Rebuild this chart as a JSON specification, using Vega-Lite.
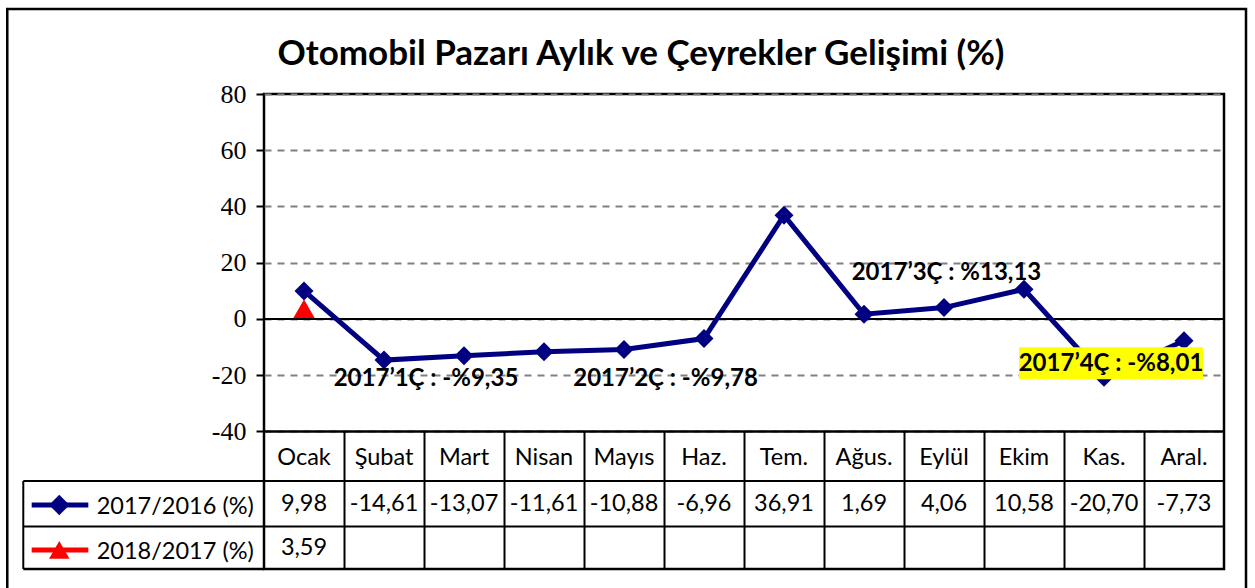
{
  "$schema": "https://vega.github.io/schema/vega-lite/v6.json",
  "width": 960,
  "height": 475,
  "autosize": {"type": "none"},
  "padding": {"left": 264, "top": 94, "right": 31, "bottom": 19},
  "background": "white",
  "title": {
    "text": "Otomobil Pazarı Aylık ve Çeyrekler Gelişimi (%)",
    "font": "Lato", "fontSize": 35, "fontWeight": "bold", "color": "black",
    "anchor": "middle", "frame": "group", "dx": -103, "offset": -92, "baseline": "alphabetic"
  },
  "config": {
    "view": {"stroke": "black", "strokeWidth": 2.5},
    "locale": {"number": {"decimal": ",", "thousands": ".", "grouping": [3], "currency": ["", ""], "minus": "-"}},
    "text": {"font": "Lato", "fontSize": 23.5, "color": "black"}
  },
  "data": {
    "values": [
      {"month": "Ocak", "m": 1, "series": "2017/2016 (%)", "value": 9.98},
      {"month": "Şubat", "m": 2, "series": "2017/2016 (%)", "value": -14.61},
      {"month": "Mart", "m": 3, "series": "2017/2016 (%)", "value": -13.07},
      {"month": "Nisan", "m": 4, "series": "2017/2016 (%)", "value": -11.61},
      {"month": "Mayıs", "m": 5, "series": "2017/2016 (%)", "value": -10.88},
      {"month": "Haz.", "m": 6, "series": "2017/2016 (%)", "value": -6.96},
      {"month": "Tem.", "m": 7, "series": "2017/2016 (%)", "value": 36.91},
      {"month": "Ağus.", "m": 8, "series": "2017/2016 (%)", "value": 1.69},
      {"month": "Eylül", "m": 9, "series": "2017/2016 (%)", "value": 4.06},
      {"month": "Ekim", "m": 10, "series": "2017/2016 (%)", "value": 10.58},
      {"month": "Kas.", "m": 11, "series": "2017/2016 (%)", "value": -20.70},
      {"month": "Aral.", "m": 12, "series": "2017/2016 (%)", "value": -7.73},
      {"month": "Ocak", "m": 1, "series": "2018/2017 (%)", "value": 3.59}
    ]
  },
  "layer": [
    {"data": {"values": [{}]}, "mark": {"type": "rect", "filled": false, "color": "black", "strokeWidth": 2.5},
      "encoding": {
        "x": {"datum": -2.709, "scale": {"domain": [0.5, 12.5], "nice": false, "zero": false}},
        "x2": {"datum": 12.775},
        "y": {"datum": 110.22, "scale": {"domain": [-88.89, 80], "nice": false, "zero": false}},
        "y2": {"datum": -107}}},
    {"transform": [{"filter": "datum.series == '2018/2017 (%)'"}],
      "mark": {"type": "point", "shape": "triangle-up", "filled": true, "color": "#FF0000", "size": 480, "opacity": 1},
      "encoding": {
        "x": {"field": "m", "type": "quantitative", "scale": {"domain": [0.5, 12.5], "nice": false, "zero": false},
          "axis": {"values": [1.5, 2.5, 3.5, 4.5, 5.5, 6.5, 7.5, 8.5, 9.5, 10.5, 11.5], "orient": "bottom",
            "tickSize": -137.5, "tickColor": "black", "tickWidth": 2, "labels": false, "domain": false, "grid": false, "title": null}},
        "y": {"field": "value", "type": "quantitative", "scale": {"domain": [-88.89, 80], "nice": false, "zero": false},
          "axis": {"values": [80, 60, 40, 20, 0, -20, -40], "tickSize": 8, "tickWidth": 2, "tickColor": "black",
            "labelFont": "Liberation Serif", "labelFontSize": 26, "labelColor": "black", "labelPadding": 10,
            "labelFlush": false, "labelOverlap": false, "domain": false, "grid": true, "gridDash": [7, 6],
            "gridColor": "#808080", "gridWidth": 2, "title": null}}}},
    {"data": {"values": [{}]}, "mark": {"type": "rule", "color": "black", "strokeWidth": 2},
      "encoding": {
        "x": {"datum": 0.5, "scale": {"domain": [0.5, 12.5], "nice": false, "zero": false}}, "x2": {"datum": 12.5},
        "y": {"datum": 0, "scale": {"domain": [-88.89, 80], "nice": false, "zero": false}}}},
    {"data": {"values": [{}]}, "mark": {"type": "rule", "color": "black", "strokeWidth": 2.5},
      "encoding": {
        "x": {"datum": 0.5, "scale": {"domain": [0.5, 12.5], "nice": false, "zero": false}}, "x2": {"datum": 12.5},
        "y": {"datum": -40, "scale": {"domain": [-88.89, 80], "nice": false, "zero": false}}}},
    {"data": {"values": [{}]}, "mark": {"type": "rule", "color": "black", "strokeWidth": 2},
      "encoding": {
        "x": {"datum": -2.509, "scale": {"domain": [0.5, 12.5], "nice": false, "zero": false}}, "x2": {"datum": 12.5},
        "y": {"datum": -57.6, "scale": {"domain": [-88.89, 80], "nice": false, "zero": false}}}},
    {"data": {"values": [{}]}, "mark": {"type": "rule", "color": "black", "strokeWidth": 2},
      "encoding": {
        "x": {"datum": -2.509, "scale": {"domain": [0.5, 12.5], "nice": false, "zero": false}}, "x2": {"datum": 12.5},
        "y": {"datum": -73.78, "scale": {"domain": [-88.89, 80], "nice": false, "zero": false}}}},
    {"data": {"values": [{}]}, "mark": {"type": "rule", "color": "black", "strokeWidth": 2.5},
      "encoding": {
        "x": {"datum": -2.509, "scale": {"domain": [0.5, 12.5], "nice": false, "zero": false}}, "x2": {"datum": 0.5},
        "y": {"datum": -88.89, "scale": {"domain": [-88.89, 80], "nice": false, "zero": false}}}},
    {"data": {"values": [{}]}, "mark": {"type": "rule", "color": "black", "strokeWidth": 2},
      "encoding": {
        "x": {"datum": -2.509, "scale": {"domain": [0.5, 12.5], "nice": false, "zero": false}},
        "y": {"datum": -57.6, "scale": {"domain": [-88.89, 80], "nice": false, "zero": false}}, "y2": {"datum": -88.89}}},
    {"transform": [{"filter": "datum.series == '2017/2016 (%)'"}],
      "mark": {"type": "line", "color": "#000080", "strokeWidth": 5},
      "encoding": {
        "x": {"field": "m", "type": "quantitative", "scale": {"domain": [0.5, 12.5], "nice": false, "zero": false}},
        "y": {"field": "value", "type": "quantitative", "scale": {"domain": [-88.89, 80], "nice": false, "zero": false}}}},
    {"transform": [{"filter": "datum.series == '2017/2016 (%)'"}],
      "mark": {"type": "point", "shape": "diamond", "filled": true, "color": "#000080", "size": 360, "opacity": 1},
      "encoding": {
        "x": {"field": "m", "type": "quantitative", "scale": {"domain": [0.5, 12.5], "nice": false, "zero": false}},
        "y": {"field": "value", "type": "quantitative", "scale": {"domain": [-88.89, 80], "nice": false, "zero": false}}}},
    {"data": {"values": [{}]}, "mark": {"type": "rect", "color": "#FFFF00"},
      "encoding": {
        "x": {"datum": 9.9375, "scale": {"domain": [0.5, 12.5], "nice": false, "zero": false}}, "x2": {"datum": 12.2375},
        "y": {"datum": -10.06, "scale": {"domain": [-88.89, 80], "nice": false, "zero": false}}, "y2": {"datum": -21.44}}},
    {"data": {"values": [{}]}, "mark": {"type": "text", "text": "2017’1Ç : -%9,35", "fontWeight": "bold", "fontSize": 24, "baseline": "middle"},
      "encoding": {
        "x": {"datum": 2.525, "scale": {"domain": [0.5, 12.5], "nice": false, "zero": false}},
        "y": {"datum": -21.33, "scale": {"domain": [-88.89, 80], "nice": false, "zero": false}}}},
    {"data": {"values": [{}]}, "mark": {"type": "text", "text": "2017’2Ç : -%9,78", "fontWeight": "bold", "fontSize": 24, "baseline": "middle"},
      "encoding": {
        "x": {"datum": 5.519, "scale": {"domain": [0.5, 12.5], "nice": false, "zero": false}},
        "y": {"datum": -21.33, "scale": {"domain": [-88.89, 80], "nice": false, "zero": false}}}},
    {"data": {"values": [{}]}, "mark": {"type": "text", "text": "2017’3Ç : %13,13", "fontWeight": "bold", "fontSize": 24, "baseline": "middle"},
      "encoding": {
        "x": {"datum": 9.031, "scale": {"domain": [0.5, 12.5], "nice": false, "zero": false}},
        "y": {"datum": 16.53, "scale": {"domain": [-88.89, 80], "nice": false, "zero": false}}}},
    {"data": {"values": [{}]}, "mark": {"type": "text", "text": "2017’4Ç : -%8,01", "fontWeight": "bold", "fontSize": 24, "baseline": "middle"},
      "encoding": {
        "x": {"datum": 11.0875, "scale": {"domain": [0.5, 12.5], "nice": false, "zero": false}},
        "y": {"datum": -16, "scale": {"domain": [-88.89, 80], "nice": false, "zero": false}}}},
    {"transform": [{"filter": "datum.series == '2017/2016 (%)'"}],
      "mark": {"type": "text", "baseline": "alphabetic", "align": "center"},
      "encoding": {
        "x": {"field": "m", "type": "quantitative", "scale": {"domain": [0.5, 12.5], "nice": false, "zero": false}},
        "y": {"datum": -51.91, "scale": {"domain": [-88.89, 80], "nice": false, "zero": false}},
        "text": {"field": "month"}}},
    {"transform": [{"filter": "datum.series == '2017/2016 (%)'"}],
      "mark": {"type": "text", "baseline": "alphabetic", "align": "center"},
      "encoding": {
        "x": {"field": "m", "type": "quantitative", "scale": {"domain": [0.5, 12.5], "nice": false, "zero": false}},
        "y": {"datum": -68.27, "scale": {"domain": [-88.89, 80], "nice": false, "zero": false}},
        "text": {"field": "value", "type": "quantitative", "format": ".2f"}}},
    {"transform": [{"filter": "datum.series == '2018/2017 (%)'"}],
      "mark": {"type": "text", "baseline": "alphabetic", "align": "center"},
      "encoding": {
        "x": {"field": "m", "type": "quantitative", "scale": {"domain": [0.5, 12.5], "nice": false, "zero": false}},
        "y": {"datum": -83.91, "scale": {"domain": [-88.89, 80], "nice": false, "zero": false}},
        "text": {"field": "value", "type": "quantitative", "format": ".2f"}}},
    {"data": {"values": [{}]}, "mark": {"type": "rule", "color": "#000080", "strokeWidth": 5},
      "encoding": {
        "x": {"datum": -2.404, "scale": {"domain": [0.5, 12.5], "nice": false, "zero": false}}, "x2": {"datum": -1.696},
        "y": {"datum": -66.13, "scale": {"domain": [-88.89, 80], "nice": false, "zero": false}}}},
    {"data": {"values": [{}]}, "mark": {"type": "point", "shape": "diamond", "filled": true, "color": "#000080", "size": 420, "opacity": 1},
      "encoding": {
        "x": {"datum": -2.059, "scale": {"domain": [0.5, 12.5], "nice": false, "zero": false}},
        "y": {"datum": -66.13, "scale": {"domain": [-88.89, 80], "nice": false, "zero": false}}}},
    {"data": {"values": [{}]}, "mark": {"type": "rule", "color": "#FF0000", "strokeWidth": 5},
      "encoding": {
        "x": {"datum": -2.404, "scale": {"domain": [0.5, 12.5], "nice": false, "zero": false}}, "x2": {"datum": -1.696},
        "y": {"datum": -82.13, "scale": {"domain": [-88.89, 80], "nice": false, "zero": false}}}},
    {"data": {"values": [{}]}, "mark": {"type": "point", "shape": "triangle-up", "filled": true, "color": "#FF0000", "size": 420, "opacity": 1},
      "encoding": {
        "x": {"datum": -2.059, "scale": {"domain": [0.5, 12.5], "nice": false, "zero": false}},
        "y": {"datum": -82.13, "scale": {"domain": [-88.89, 80], "nice": false, "zero": false}}}},
    {"transform": [{"filter": "datum.m == 1 && datum.series == '2017/2016 (%)'"}],
      "mark": {"type": "text", "baseline": "middle", "align": "left"},
      "encoding": {
        "x": {"datum": -1.591, "scale": {"domain": [0.5, 12.5], "nice": false, "zero": false}},
        "y": {"datum": -67.0, "scale": {"domain": [-88.89, 80], "nice": false, "zero": false}},
        "text": {"field": "series"}}},
    {"transform": [{"filter": "datum.m == 1 && datum.series == '2018/2017 (%)'"}],
      "mark": {"type": "text", "baseline": "middle", "align": "left"},
      "encoding": {
        "x": {"datum": -1.591, "scale": {"domain": [0.5, 12.5], "nice": false, "zero": false}},
        "y": {"datum": -82.9, "scale": {"domain": [-88.89, 80], "nice": false, "zero": false}},
        "text": {"field": "series"}}}
  ]
}
